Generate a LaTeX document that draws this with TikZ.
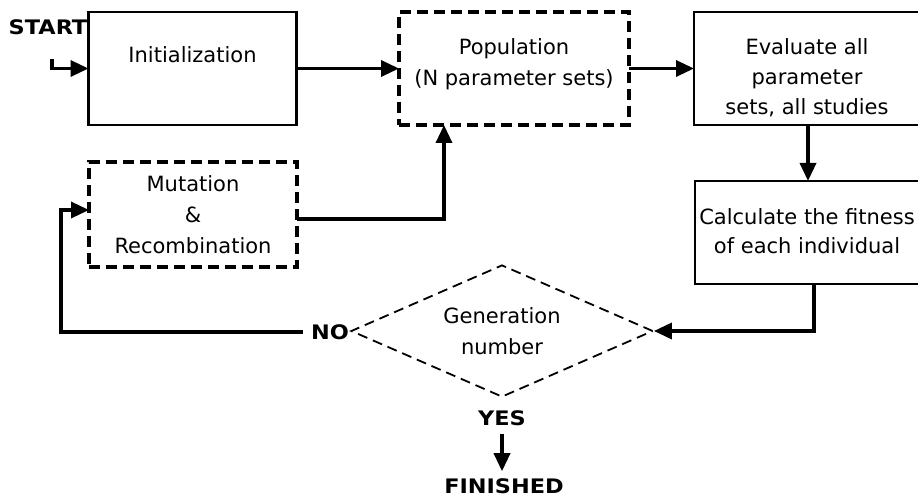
\documentclass[tikz,border=0pt]{standalone}
\usepackage{fontspec}
\setmainfont{DejaVu Sans}
\newfontfamily\labfont[FakeStretch=1.12]{DejaVu Sans}
\usetikzlibrary{shapes.geometric,arrows.meta,calc}
\begin{document}
\begin{tikzpicture}[x=1pt,y=-1pt,
 box/.style={draw, line width=2.8pt, rectangle, inner sep=0pt, outer sep=0pt},
 dbox/.style={box, dash pattern=on 11pt off 6pt, line width=3.2pt},
 txt/.style={align=center, font=\fontsize{21}{31}\selectfont, inner sep=0pt},
 lab/.style={font=\labfont\bfseries\fontsize{20}{22}\selectfont, inner sep=0pt},
 conn/.style={line width=3.4pt, -{Triangle[length=18pt,width=16pt]}}]
\path[use as bounding box] (0,0) rectangle (918,497);
\clip (0,0) rectangle (918,497);
\fill[white] (0,0) rectangle (918,497);

\node[box, minimum width=208pt, minimum height=113pt] (init) at (192.5,68.5) {};
\node[txt] (initt) at (192.5,55) {Initialization};
\node[dbox, minimum width=230pt, minimum height=113pt] (pop) at (514,68.5) {};
\node[txt] (popt) at (514,64) {Population\\(N parameter sets)};
\node[box, minimum width=228pt, minimum height=113pt] (eval) at (808,68.5) {};
\node[txt, font=\fontsize{21}{30}\selectfont] (evalt) at (807,78) {Evaluate all\\parameter\\sets, all studies};
\node[box, minimum width=227pt, minimum height=103pt] (calc) at (808.5,232.5) {};
\node[txt, font=\fontsize{21}{29}\selectfont] (calct) at (807,231.5) {Calculate the fitness\\of each individual};
\node[dbox, minimum width=208pt, minimum height=105pt] (mut) at (193,214.5) {};
\node[txt] (mutt) at (193,214.5) {Mutation\\\&\\Recombination};
\node[draw, diamond, line width=1.8pt, dash pattern=on 10pt off 6pt, minimum width=302pt, minimum height=132pt, inner sep=0pt] (dia) at (502,331) {};
\node[txt] (diat) at (502,331.5) {Generation\\number};
\node[lab] (start) at (48,27) {START};
\node[lab] (no) at (330,332) {NO};
\node[lab] (yes) at (502,418) {YES};
\node[lab] (fin) at (504,486) {FINISHED};

\coordinate (s0) at (52,59);
\draw[conn] (s0) |- (init.west);
\draw[conn] (init.east) -- (pop.west);
\draw[conn] (pop.east) -- (eval.west);
\draw[conn] (eval.south) -- (eval.south |- calc.north);
\draw[conn] ($(calc.south)+(5.5,0)$) |- (dia.east);
\coordinate (lp) at (61,210);
\draw[conn, shorten <=8pt] (no.west) -| (lp) -- (lp -| mut.west);
\draw[conn] ($(mut.east)+(0,4.5)$) -| ($(pop.south)+(-70,0)$);
\draw[conn, shorten <=8pt, shorten >=7pt] (yes.south) -- (yes.south |- fin.north);
\end{tikzpicture}
\end{document}
